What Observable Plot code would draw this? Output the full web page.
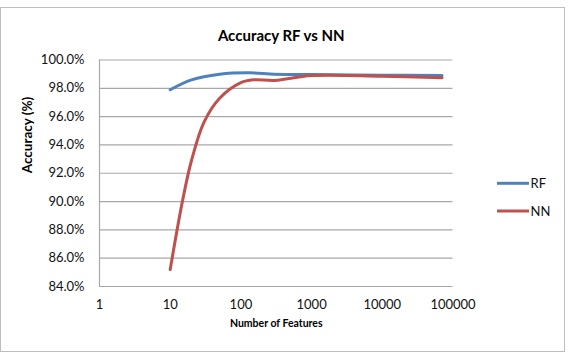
<!DOCTYPE html>
<html>
<head>
<meta charset="utf-8">
<script src="https://cdn.jsdelivr.net/npm/d3@7"></script>
<script src="https://cdn.jsdelivr.net/npm/@observablehq/plot@0.6"></script>
<style>
  html, body { margin: 0; padding: 0; background: #fff; }
  #wrap { position: relative; width: 577px; height: 353px; overflow: hidden; }
  #border { position: absolute; left: 0px; top: 7px; width: 565px; height: 345px; border: 1px solid #bdbdbd; box-sizing: border-box; pointer-events: none; }
  #chart { position: absolute; left: 0; top: 0; }
</style>
</head>
<body>
<div id="wrap"><div id="chart"></div><div id="border"></div></div>
<script>
// Data
const rfFeatures = [10, 20, 50, 130, 300, 1000, 10000, 70000];
const rfAccuracy = [97.9, 98.6, 99.0, 99.1, 99.0, 98.97, 98.93, 98.9];
const nnFeatures = [10, 15, 20, 30, 50, 100, 150, 300, 1000, 10000, 70000];
const nnAccuracy = [85.2, 90.1, 92.9, 95.6, 97.3, 98.4, 98.6, 98.55, 98.9, 98.85, 98.75];
const seriesNames = ["RF", "NN"];
const seriesColors = ["#4F81BD", "#C0504D"];
const xTicks = [1, 10, 100, 1000, 10000, 100000];
const yTicks = [84, 86, 88, 90, 92, 94, 96, 98, 100];
const titleText = "Accuracy RF vs NN";
const xTitle = "Number of Features";
const yTitle = "Accuracy (%)";

const rf = rfFeatures.map((f, i) => ({features: f, accuracy: rfAccuracy[i]}));
const nn = nnFeatures.map((f, i) => ({features: f, accuracy: nnAccuracy[i]}));
const fmtPct = d => d.toFixed(1) + "%";
const W = 577, H = 353;
const mL = 99, mR = 124.5, mT = 59.5, mB = 67;

const chart = Plot.plot({
  width: W, height: H,
  marginLeft: mL, marginRight: mR, marginTop: mT, marginBottom: mB,
  style: {fontFamily: "Lato, 'Open Sans', sans-serif", fontSize: "13px", color: "#111", background: "transparent", overflow: "visible"},
  x: {type: "log", domain: [1, 100000]},
  y: {domain: [84, 100]},
  marks: [
    Plot.gridY(yTicks, {stroke: "#a8a8a8", strokeOpacity: 1, strokeWidth: 1.2}),
    Plot.ruleX([1], {stroke: "#a8a8a8", strokeWidth: 1.2}),
    Plot.axisY(yTicks, {tickSize: 0, tickPadding: 15, tickFormat: fmtPct, label: null, fontSize: 13}),
    Plot.axisX(xTicks, {tickSize: 0, tickPadding: 13, tickFormat: d => String(d), label: null, fontSize: 13}),
    Plot.line(rf, {x: "features", y: "accuracy", curve: "catmull-rom", stroke: seriesColors[0], strokeWidth: 3}),
    Plot.line(nn, {x: "features", y: "accuracy", curve: "catmull-rom", stroke: seriesColors[1], strokeWidth: 3}),
    // titles
    Plot.text([titleText], {frameAnchor: "top", dy: -29.5, dx: 5, text: d => d, fontWeight: "bold", fontSize: 15, fill: "#000"}),
    Plot.text([xTitle], {frameAnchor: "bottom", dy: 40.5, text: d => d, fontWeight: "bold", fontSize: 10.5, fill: "#000"}),
    Plot.text([yTitle], {frameAnchor: "left", dx: -72, text: d => d, fontWeight: "bold", fontSize: 13.5, rotate: -90, fill: "#000"})
  ]
});
document.getElementById("chart").appendChild(chart);

// legend drawn inside the same SVG, right of the plot area
const svg = d3.select(chart);
const legendY = [183.3, 211];
seriesNames.forEach((name, i) => {
  svg.append("line").attr("x1", 497).attr("x2", 529).attr("y1", legendY[i]).attr("y2", legendY[i])
    .attr("stroke", seriesColors[i]).attr("stroke-width", 3);
  svg.append("text").attr("x", 530.5).attr("y", legendY[i]).attr("dy", "0.35em")
    .attr("text-anchor", "start").attr("font-size", 13).attr("fill", "#111").text(name);
});
</script>
</body>
</html>
